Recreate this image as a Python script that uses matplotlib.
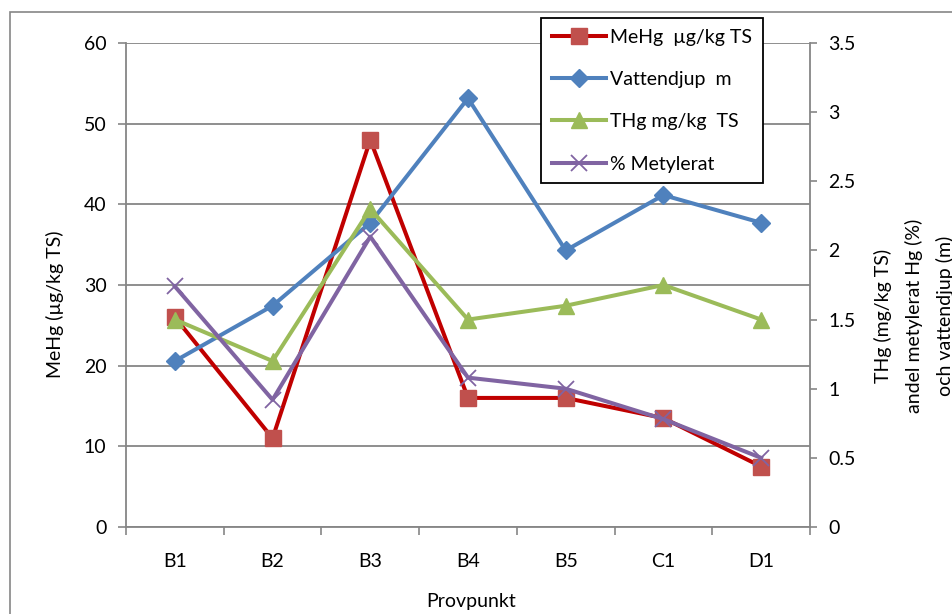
import matplotlib
matplotlib.use("Agg")
import matplotlib.pyplot as plt
from matplotlib.patches import Rectangle

plt.rcParams['font.family'] = ['Lato', 'DejaVu Sans']

# data
provpunkt = ["B1", "B2", "B3", "B4", "B5", "C1", "D1"]
mehg = [26, 11, 48, 16, 16, 13.5, 7.5]              # ug/kg TS (left axis)
vattendjup = [1.2, 1.6, 2.2, 3.1, 2.0, 2.4, 2.2]    # m (right axis)
thg = [1.5, 1.2, 2.3, 1.5, 1.6, 1.75, 1.5]          # mg/kg TS (right axis)
metylerat = [1.74, 0.92, 2.1, 1.08, 1.0, 0.78, 0.5] # % (right axis)

left_ticks = [0, 10, 20, 30, 40, 50, 60]
right_ticks = [0, 0.5, 1, 1.5, 2, 2.5, 3, 3.5]

grey = '#868686'
fs = 14

fig = plt.figure(figsize=(9.52, 6.14), dpi=100)
ax = fig.add_axes([126/952, 1-527/614, (810-126)/952, (527-43)/614])
ax2 = ax.twinx()

# outer chart border (left/top visible, rest off the picture)
fig.patches.append(Rectangle((10/952, -0.1), 1.2, 1.1 - 12/614,
                             transform=fig.transFigure, fill=False,
                             edgecolor=grey, linewidth=1.2, clip_on=False))

x = list(range(len(provpunkt)))

l1, = ax.plot(x, mehg, color='#C00000', lw=2.9, marker='s', ms=11,
              mfc='#C0504D', mec='#C0504D', label='MeHg  µg/kg TS')
l2, = ax2.plot(x, vattendjup, color='#4F81BD', lw=2.9, marker='D', ms=9.5,
               mfc='#4F81BD', mec='#4F81BD', label='Vattendjup  m')
l3, = ax2.plot(x, thg, color='#9BBB59', lw=2.9, marker='^', ms=12,
               mfc='#9BBB59', mec='#9BBB59', label='THg mg/kg  TS')
l4, = ax2.plot(x, metylerat, color='#8064A2', lw=2.9, marker='x', ms=11,
               mew=1.3, label='% Metylerat')

ax.set_xlim(-0.5, len(provpunkt) - 0.5)
ax.set_ylim(0, 60)
ax2.set_ylim(0, 3.5)
ax.set_yticks(left_ticks)
ax2.set_yticks(right_ticks)
ax2.set_yticklabels([f"{t:g}" for t in right_ticks])

# ticks between categories, labels at categories
ax.set_xticks([i - 0.5 for i in range(len(provpunkt) + 1)], minor=False)
ax.set_xticklabels([])
ax.set_xticks(x, minor=True)
ax.set_xticklabels(provpunkt, minor=True)
ax.tick_params(axis='x', which='major', length=6, color=grey, width=1.2)
ax.tick_params(axis='x', which='minor', length=0, labelsize=fs, pad=19)

ax.grid(axis='y', color=grey, lw=1.3)
ax.set_axisbelow(True)
for a in (ax, ax2):
    for s in a.spines.values():
        s.set_visible(False)
ax.spines['left'].set_visible(True)
ax.spines['bottom'].set_visible(True)
ax2.spines['right'].set_visible(True)
for s in (ax.spines['left'], ax.spines['bottom'], ax2.spines['right']):
    s.set_color(grey)
    s.set_linewidth(1.3)

ax.tick_params(axis='y', length=6, color=grey, width=1.2, labelsize=fs, pad=8)
ax2.tick_params(axis='y', length=5, color=grey, width=1.2, labelsize=fs, pad=8)

fig.text(55/952, 1-304/614, 'MeHg (µg/kg TS)', rotation=90, ha='center',
         va='center', fontsize=fs)
fig.text(914/952, 1-316/614,
         'THg (mg/kg TS)\nandel metylerat Hg (%)\noch vattendjup (m)',
         rotation=90, ha='center', va='center', fontsize=fs,
         multialignment='center', linespacing=1.85)
fig.text(471/952, 1-602/614, 'Provpunkt', ha='center', va='center', fontsize=fs)

leg = fig.legend(handles=[l1, l2, l3, l4], loc='upper left',
                 bbox_to_anchor=(541/952, 1-18/614), fontsize=fs,
                 frameon=True, fancybox=False, edgecolor='black',
                 framealpha=1, handlelength=2.8, handletextpad=0.2,
                 labelspacing=1.3, borderpad=0.55, borderaxespad=0)
leg.get_frame().set_linewidth(1.3)

fig.savefig('out.png', dpi=100)
